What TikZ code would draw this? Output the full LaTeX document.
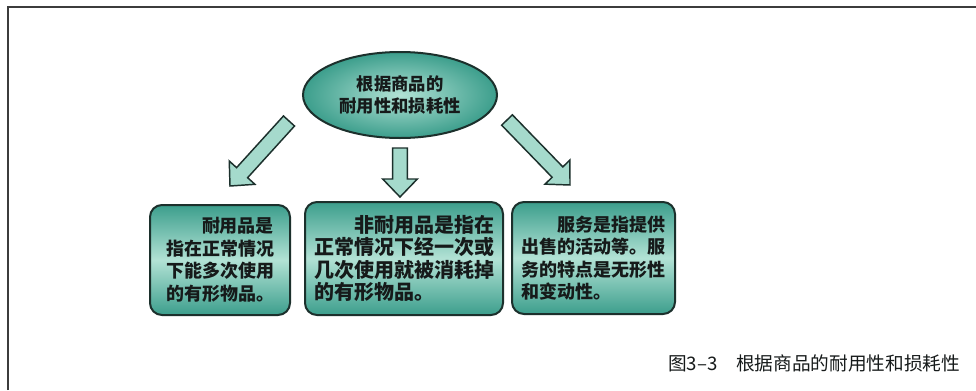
\documentclass[tikz,border=0pt]{standalone}
\usepackage{fontspec}
\setmainfont{Noto Sans CJK SC}
\usetikzlibrary{shapes.geometric,calc}
\definecolor{tealdark}{RGB}{60,158,140}
\definecolor{teallight}{RGB}{178,226,213}
\definecolor{edgecol}{RGB}{28,48,44}
\definecolor{arrowfill}{RGB}{165,218,204}
\definecolor{ink}{RGB}{22,26,26}
\definecolor{framecol}{RGB}{60,60,60}
\newcommand{\fatarrow}[3]{%
  \coordinate (#3b) at ($(#2)!13.5pt!(#1)$);
  \draw[fatarrow] ($(#1)!5.6pt!90:(#2)$) -- ($(#3b)!5.6pt!90:(#2)$)
    -- ($(#3b)!13pt!90:(#2)$) -- (#2) -- ($(#3b)!13pt!-90:(#2)$)
    -- ($(#3b)!5.6pt!-90:(#2)$) -- ($(#1)!5.6pt!-90:(#2)$) -- cycle;}
\begin{document}
\begin{tikzpicture}[x=0.75pt,y=-0.75pt,
  every node/.style={inner sep=0pt,outer sep=0pt},
  ovalbox/.style={ellipse, draw=edgecol, line width=1.5pt,
    minimum width=145.5pt, minimum height=64.5pt,
    inner color=teallight, outer color=tealdark,
    font=\bfseries\fontsize{13}{16.5}\selectfont, align=center, text=ink},
  infobox/.style={rectangle, rounded corners=9pt, draw=edgecol, line width=1.5pt,
    top color=tealdark, bottom color=tealdark, middle color=teallight,
    align=left, text=ink, font=\bfseries\fontsize{13.5}{16.9}\selectfont},
  fatarrow/.style={draw=edgecol, line width=1.1pt, fill=arrowfill, line join=miter},
  captext/.style={text=ink, font=\fontsize{14}{16}\selectfont, anchor=west}
]
\useasboundingbox (0,0) rectangle (976,390);
\fill[white] (0,0) rectangle (976,390);
\draw[framecol, line width=1.2pt] (8,390) -- (8,7) -- (976,7);

\node[ovalbox] (top) at (400,95) {根据商品的\\耐用性和损耗性};

\node[infobox, minimum width=105pt, minimum height=82.5pt] (b1) at (220,260)
  {\hspace*{2em}耐用品是\\指在正常情况\\下能多次使用\\的有形物品。};
\node[infobox, minimum width=148.5pt, minimum height=84.75pt,
  font=\bfseries\fontsize{15}{16.9}\selectfont] (b2) at (404,258.5)
  {\hspace*{2em}非耐用品是指在\\正常情况下经一次或\\几次使用就被消耗掉\\的有形物品。};
\node[infobox, minimum width=122.25pt, minimum height=84pt] (b3) at (593.5,258)
  {\hspace*{2em}服务是指提供\\出售的活动等。服\\务的特点是无形性\\和变动性。};

\coordinate (lt) at (289,121);
\coordinate (lh) at (230,186);
\coordinate (mt) at (400,148);
\coordinate (mh) at (400,197);
\coordinate (rt) at (507,120);
\coordinate (rh) at (570,185);
\fatarrow{lt}{lh}{la}
\fatarrow{mt}{mh}{ma}
\fatarrow{rt}{rh}{ra}

\node[captext] (cap) at (668,363) {图3–3\hspace{1em}根据商品的耐用性和损耗性};
\end{tikzpicture}
\end{document}
